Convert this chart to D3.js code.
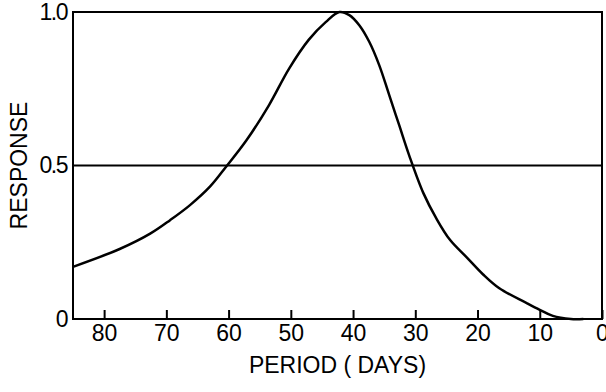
<!DOCTYPE html>
<html>
<head>
<meta charset="utf-8">
<script src="https://cdn.jsdelivr.net/npm/d3@7"></script>
<style>
  body { margin: 0; background: #fff; }
  svg text { font-family: "Liberation Sans", Arial, sans-serif; fill: #000; }
</style>
</head>
<body>
<div class="chart"></div>
<script>
// Data
const periodDays = [85, 77.5, 72.6, 69.4, 66.2, 63, 60.4, 57.1, 53.5, 50.3, 47.1, 44.4, 42.2, 40.6, 39, 37.4, 35.8, 34.2, 32.6, 31, 28.7, 26.6, 24.4, 21.7, 19.1, 16.5, 12.1, 10, 7.9, 5, 3]
const response = [0.17, 0.228, 0.278, 0.322, 0.371, 0.431, 0.496, 0.583, 0.697, 0.815, 0.91, 0.967, 1.0, 0.99, 0.957, 0.903, 0.827, 0.73, 0.632, 0.534, 0.41, 0.327, 0.257, 0.2, 0.145, 0.1, 0.052, 0.03, 0.01, 0.0, 0.0]
const xTicks = [80, 70, 60, 50, 40, 30, 20, 10, 0]
const yTicks = [0, 0.5, 1.0]
const yTickLabels = ["0", "0.5", "1.0"]
const refLevel = 0.5

const data = periodDays.map((d, i) => ({ period: d, value: response[i] }))

// 1. Dimensions
let dimensions = {
    width: 606,
    height: 392,
    margin: { top: 12, right: 4, bottom: 73, left: 73 },
}
dimensions.boundedWidth = dimensions.width - dimensions.margin.left - dimensions.margin.right
dimensions.boundedHeight = dimensions.height - dimensions.margin.top - dimensions.margin.bottom

// 2. Canvas
const wrapper = d3.select(".chart")
    .append("svg")
    .attr("width", dimensions.width)
    .attr("height", dimensions.height)

const bounds = wrapper.append("g")
    .attr("transform", `translate(${dimensions.margin.left},${dimensions.margin.top})`)

// 3. Scales (period runs backwards)
const xScale = d3.scaleLinear()
    .domain([85, 0])
    .range([0, dimensions.boundedWidth])

const yScale = d3.scaleLinear()
    .domain([0, 1])
    .range([dimensions.boundedHeight, 0])

// 4. Frame and reference line
bounds.append("rect")
    .attr("width", dimensions.boundedWidth)
    .attr("height", dimensions.boundedHeight)
    .attr("fill", "none")
    .attr("stroke", "#000")
    .attr("stroke-width", 2)

bounds.append("line")
    .attr("x1", 0)
    .attr("x2", dimensions.boundedWidth)
    .attr("y1", yScale(refLevel))
    .attr("y2", yScale(refLevel))
    .attr("stroke", "#000")
    .attr("stroke-width", 2)

// 5. Curve
const lineGenerator = d3.line()
    .x(d => xScale(d.period))
    .y(d => yScale(d.value))
    .curve(d3.curveCatmullRom.alpha(0.5))

bounds.append("path")
    .attr("d", lineGenerator(data))
    .attr("fill", "none")
    .attr("stroke", "#000")
    .attr("stroke-width", 2.5)

// 6. Axes
const xAxisGenerator = d3.axisBottom(xScale)
    .tickValues(xTicks)
    .tickSizeInner(-9)
    .tickSizeOuter(0)
    .tickPadding(6)

const xAxis = bounds.append("g")
    .attr("transform", `translate(0,${dimensions.boundedHeight})`)
    .call(xAxisGenerator)
xAxis.select(".domain").remove()
xAxis.selectAll("line").attr("stroke-width", 2)
xAxis.selectAll("text")
    .attr("font-size", 23)
    .attr("font-family", "Liberation Sans, sans-serif")

const yAxisGenerator = d3.axisLeft(yScale)
    .tickValues(yTicks)
    .tickFormat((d, i) => yTickLabels[i])
    .tickSize(0)
    .tickPadding(6)

const yAxis = bounds.append("g")
    .call(yAxisGenerator)
yAxis.select(".domain").remove()
yAxis.selectAll("text")
    .attr("font-size", 23)
    .attr("letter-spacing", -1.5)
    .attr("font-family", "Liberation Sans, sans-serif")

// Axis titles
wrapper.append("text")
    .attr("x", dimensions.margin.left + xScale(42.5))
    .attr("y", 373)
    .attr("text-anchor", "middle")
    .attr("font-size", 23)
    .text("PERIOD ( DAYS)")

wrapper.append("text")
    .attr("transform", `translate(27,${dimensions.margin.top + yScale(0.5)}) rotate(-90)`)
    .attr("text-anchor", "middle")
    .attr("font-size", 23)
    .text("RESPONSE")
</script>
</body>
</html>
